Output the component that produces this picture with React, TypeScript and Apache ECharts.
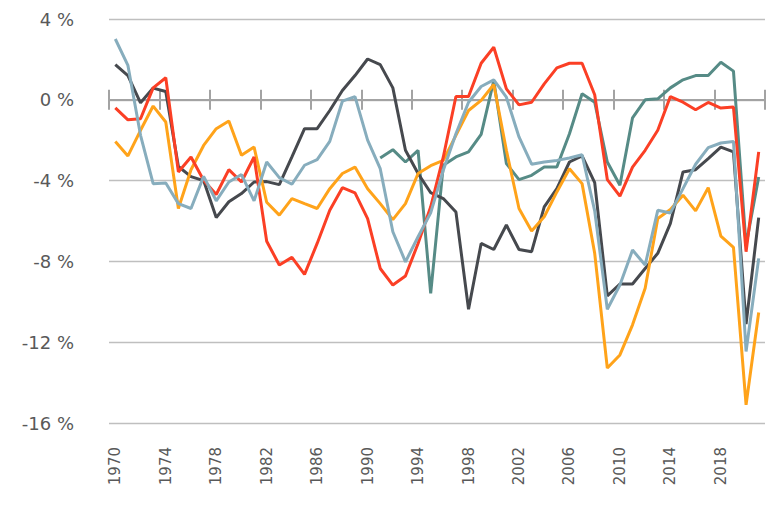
import React, { useEffect, useRef } from "react";
import * as echarts from "echarts";

const years: string[] = [];
for (let y = 1970; y <= 2021; y++) years.push(String(y));

const greyValues = [
  1.74, 1.2, -0.15, 0.58, 0.41, -3.3, -3.8, -4.0, -5.83, -5.05,
  -4.64, -4.07, -4.05, -4.2, -2.83, -1.43, -1.43, -0.53, 0.46, 1.2,
  2.02, 1.74, 0.59, -2.5, -3.65, -4.6, -4.89, -5.55, -10.37, -7.11,
  -7.41, -6.2, -7.41, -7.52, -5.3, -4.4, -3.08, -2.78, -4.1, -9.71,
  -9.12, -9.12, -8.35, -7.6, -6.12, -3.57, -3.46, -2.91, -2.34, -2.58,
  -11.1, -5.83,
];

const redValues = [
  -0.4, -0.99, -0.94, 0.59, 1.09, -3.57, -2.83, -3.98, -4.69, -3.46,
  -4.07, -2.83, -7.0, -8.18, -7.8, -8.64, -7.11, -5.47, -4.35, -4.61,
  -5.88, -8.35, -9.17, -8.72, -7.11, -5.3, -2.83, 0.16, 0.16, 1.81,
  2.6, 0.54, -0.25, -0.12, 0.79, 1.58, 1.81, 1.81, 0.25, -3.95,
  -4.77, -3.33, -2.5, -1.51, 0.16, -0.12, -0.49, -0.13, -0.41, -0.36,
  -7.52, -2.58,
];

const orangeValues = [
  -2.06, -2.78, -1.51, -0.31, -1.1, -5.38, -3.46, -2.26, -1.43, -1.05,
  -2.75, -2.34, -5.07, -5.71, -4.89, -5.14, -5.38, -4.4, -3.65, -3.33,
  -4.4, -5.14, -5.93, -5.14, -3.65, -3.26, -3.0, -1.76, -0.53, -0.03,
  0.76, -2.5, -5.38, -6.49, -5.79, -4.56, -3.41, -4.15, -7.6, -13.28,
  -12.63, -11.14, -9.33, -5.88, -5.43, -4.72, -5.5, -4.35, -6.75, -7.31,
  -15.1, -10.53,
];

const tealValues: (number | null)[] = [
  null, null, null, null, null, null, null, null, null, null,
  null, null, null, null, null, null, null, null, null, null,
  null, -2.88, -2.47, -3.08, -2.5, -9.58, -3.24, -2.83, -2.58, -1.71,
  0.95, -3.16, -3.95, -3.74, -3.33, -3.33, -1.68, 0.3, -0.12, -3.08,
  -4.23, -0.89, 0.0, 0.05, 0.59, 0.99, 1.2, 1.2, 1.86, 1.42,
  -7.2, -3.82,
];

const blueValues = [
  3.01, 1.7, -1.76, -4.15, -4.12, -5.14, -5.38, -3.79, -5.0, -4.07,
  -3.7, -5.0, -3.08, -3.85, -4.18, -3.24, -2.96, -2.06, -0.07, 0.16,
  -2.0, -3.41, -6.53, -8.02, -6.78, -5.6, -3.49, -1.68, -0.12, 0.66,
  0.99, 0.13, -1.84, -3.19, -3.08, -3.0, -2.88, -2.72, -5.5, -10.37,
  -9.17, -7.44, -8.18, -5.47, -5.6, -4.4, -3.19, -2.37, -2.14, -2.06,
  -12.46, -7.85,
];

const yMin = -16;
const yMax = 4;
const yStep = 4;

const seriesDefs = [
  { name: "Series 4", color: "#568b86", data: tealValues },
  { name: "Series 1", color: "#46494e", data: greyValues },
  { name: "Series 3", color: "#ffa31a", data: orangeValues },
  { name: "Series 2", color: "#fb3f25", data: redValues },
  { name: "Series 5", color: "#87adbd", data: blueValues },
];

export default function App() {
  const ref = useRef<HTMLDivElement>(null);
  useEffect(() => {
    if (!ref.current) return;
    const chart = echarts.init(ref.current, null, { renderer: "svg" });
    const zeroAxis = (inside: boolean) => ({
      type: "category",
      data: years,
      position: "bottom",
      boundaryGap: true,
      axisLine: {
        show: true,
        onZero: true,
        onZeroAxisIndex: 0,
        lineStyle: { color: "#a3a3a3", width: 2 },
      },
      axisTick: {
        show: true,
        interval: 3,
        inside,
        length: 10,
        lineStyle: { color: "#a3a3a3", width: 2 },
      },
      axisLabel: { show: false },
      splitLine: { show: false },
    });
    chart.setOption({
      animation: false,
      grid: { left: 109, right: 13, top: 19, bottom: 95, containLabel: false },
      xAxis: [
        {
          type: "category",
          data: years,
          position: "bottom",
          boundaryGap: true,
          axisLine: { show: false, onZero: false },
          axisTick: { show: false },
          axisLabel: {
            interval: 3,
            rotate: 90,
            margin: 24,
            fontSize: 15,
            color: "#595959",
            fontFamily: "DejaVu Sans",
          },
          splitLine: { show: false },
        },
        zeroAxis(true),
        zeroAxis(false),
      ],
      yAxis: {
        type: "value",
        min: yMin,
        max: yMax,
        interval: yStep,
        axisLine: { show: false },
        axisTick: { show: false },
        axisLabel: {
          formatter: "{value} %",
          fontSize: 18,
          color: "#595959",
          margin: 35,
          fontFamily: "DejaVu Sans",
        },
        splitLine: { lineStyle: { color: "#bfbfbf", width: 1.3 } },
      },
      series: seriesDefs.map((s) => ({
        name: s.name,
        type: "line",
        xAxisIndex: 0,
        yAxisIndex: 0,
        data: s.data,
        showSymbol: false,
        symbol: "none",
        connectNulls: false,
        lineStyle: { color: s.color, width: 3 },
        itemStyle: { color: s.color },
      })),
    });
    return () => chart.dispose();
  }, []);
  return (
    <div
      ref={ref}
      style={{ position: "absolute", left: 0, top: 0, width: 778, height: 518 }}
    />
  );
}
